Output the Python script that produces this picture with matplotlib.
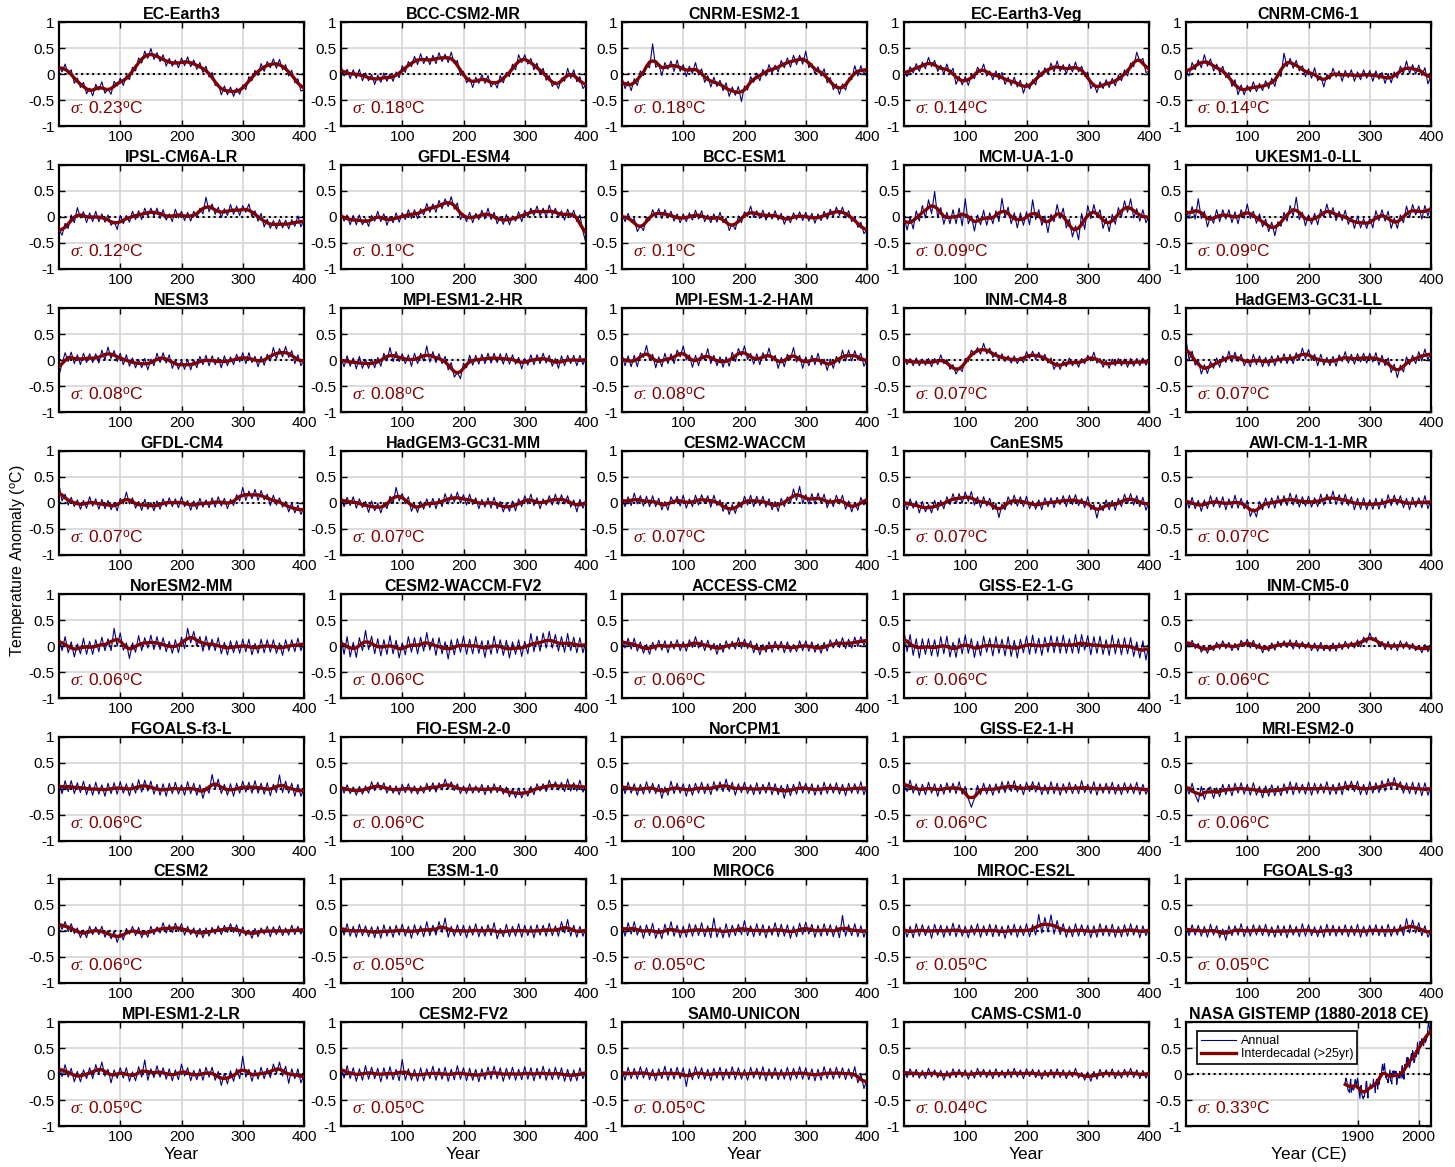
import numpy as np
import matplotlib
matplotlib.use('Agg')
import matplotlib.pyplot as plt
from matplotlib.ticker import FuncFormatter

plt.rcParams['font.family'] = ['Liberation Sans', 'DejaVu Sans']
plt.rcParams['mathtext.fontset'] = 'custom'
plt.rcParams['mathtext.rm'] = 'Liberation Sans'
plt.rcParams['mathtext.it'] = 'Liberation Serif:italic'
plt.rcParams['axes.unicode_minus'] = False

# annual global-mean anomaly, hundredths of a degree C, one value every 5 model years (0..400)
ec_earth3 = [16,4,19,0,8,-18,-8,-26,-16,-38,-27,-42,-20,-31,-15,-37,-29,-39,-14,-23,-8,-22,-3,-11,13,6,31,21,44,30,49,28,41,24,37,15,30,15,27,12,31,16,33,14,27,9,22,3,15,-6,3,-22,-19,-40,-23,-40,-25,-43,-27,-39,-21,-30,-5,-13,7,-3,20,5,24,12,29,11,28,8,18,-4,7,-17,-9,-33,-30]
bcc_csm2_mr = [15,-4,9,-9,8,-8,9,-13,2,-13,-1,-20,-2,-16,2,-14,0,-14,4,-7,16,3,24,14,34,18,39,20,34,18,36,20,41,24,38,22,42,20,26,-3,5,-17,-7,-26,-6,-18,-1,-18,-3,-25,-14,-27,-3,-17,3,-5,19,8,37,22,37,19,30,8,21,-1,11,-12,-3,-24,-15,-28,-8,-14,11,-8,8,-15,-5,-28,-20]
cnrm_esm2_1 = [-7,-28,-14,-32,-9,-22,6,-3,17,12,58,13,19,-3,22,9,25,5,27,5,18,-5,15,1,22,-2,10,-16,-3,-25,-6,-24,-12,-32,-17,-43,-25,-41,-24,-53,-23,-31,-5,-16,2,-13,9,-4,18,1,17,4,26,12,31,13,36,18,36,19,44,12,20,0,14,-4,10,-17,-7,-30,-19,-39,-19,-31,-8,-11,16,-4,16,-1,14]
ec_earth3_veg = [5,-5,14,2,20,5,23,10,32,14,26,5,17,0,19,1,11,-20,-4,-21,-5,-22,-1,-9,13,3,19,-4,6,-11,6,-11,3,-20,-6,-22,-6,-25,-12,-37,-17,-29,-11,-21,7,-5,12,0,21,4,25,5,18,0,19,4,23,4,15,-4,4,-28,-18,-36,-15,-28,-11,-26,-8,-23,-2,-13,8,-4,21,14,42,24,30,3,5]
cnrm_cm6_1 = [7,-4,22,8,27,12,37,15,29,6,19,2,15,-7,3,-24,-11,-40,-21,-40,-22,-34,-15,-34,-18,-32,-13,-28,-8,-24,2,-5,40,14,30,11,26,6,16,-5,10,-8,12,-13,-4,-25,-1,-10,11,-6,6,-14,7,-7,8,-14,4,-11,8,-8,7,-14,6,-10,3,-18,1,-17,4,-8,15,1,25,1,18,0,17,-3,12,-19,-4]
ipsl_cm6a_lr = [-24,-35,-12,-22,4,-11,18,-2,10,-11,8,-9,11,-9,6,-10,4,-16,-8,-24,3,-13,3,-10,11,-5,12,-5,17,1,17,2,17,-3,14,-6,6,-9,15,-2,11,-7,9,-8,11,-1,17,6,38,10,25,5,19,-1,16,3,24,5,21,3,22,9,25,1,12,-8,7,-19,-4,-22,-7,-23,-5,-21,-6,-23,-5,-18,2,-19,-4]
gfdl_esm4 = [9,-8,4,-15,3,-15,4,-15,-3,-18,3,-8,11,-9,6,-16,1,-11,8,-10,8,-5,14,-3,14,-3,16,4,26,9,25,9,32,16,35,20,39,15,27,-5,6,-9,9,-11,7,-5,13,-4,17,-5,9,-13,1,-14,5,-15,2,-8,10,-9,13,0,17,3,21,2,17,0,23,3,17,-1,12,-6,15,-1,13,-9,4,-28,-50]
bcc_esm1 = [6,-9,7,-10,-3,-28,-17,-26,0,-7,14,0,16,-3,14,-2,11,-8,6,-11,6,-9,8,-6,13,-4,12,-9,4,-11,6,-10,9,-11,-2,-26,-13,-24,2,-11,10,1,21,-1,12,-3,13,-6,9,-4,12,-6,7,-14,2,-11,8,-5,10,-7,9,-8,7,-12,6,-7,11,-4,15,1,19,3,19,-2,12,-9,1,-20,-10,-32,-25]
mcm_ua_1_0 = [2,-25,0,-23,12,-8,22,-2,33,6,49,-1,18,-14,9,-13,14,-13,17,-17,35,-13,2,-27,4,-15,13,-16,8,-13,12,-9,36,-1,19,-13,8,-21,8,-16,10,-15,33,-5,14,-16,2,-30,5,-9,24,-3,17,-21,-4,-38,-17,-44,7,-24,22,-3,24,-1,14,-22,-2,-28,5,-14,18,0,31,9,35,-2,16,-8,14,-11,2]
ukesm1_0_ll = [15,-3,20,-4,35,-3,11,-19,3,-12,14,-9,14,-4,14,-11,10,-13,14,-3,25,-3,11,-12,6,-19,-4,-28,-10,-36,-9,-18,9,-8,22,2,38,-5,9,-17,4,-14,7,-15,15,0,25,1,18,-7,11,-7,13,-14,1,-22,2,-21,-3,-22,-2,-21,12,-7,14,-8,11,-22,-2,-22,4,-11,21,-1,24,4,21,-4,22,2,24]
nesm3 = [-30,-7,14,-3,15,-7,10,-9,13,-5,12,-5,12,-6,19,0,25,3,18,-3,13,-9,10,-12,4,-15,1,-15,3,-19,2,-11,13,-5,14,-6,10,-16,0,-18,-1,-18,1,-19,0,-15,7,-9,9,-11,8,-9,5,-15,8,-11,6,-9,11,-4,14,-7,14,-5,7,-13,7,-10,11,-2,24,2,22,6,26,5,18,-7,10,-11,1]
mpi_esm1_2_hr = [6,-13,8,-12,4,-17,7,-16,1,-16,2,-15,5,-12,13,-2,24,-3,16,-3,12,-7,10,-12,13,-7,13,-2,27,-4,16,-5,12,-7,7,-19,-5,-33,-24,-36,-6,-15,9,-10,9,-8,11,-7,13,-6,13,-5,12,-8,13,-8,10,-8,5,-17,3,-10,10,-9,10,-7,13,-6,9,-12,3,-16,8,-11,9,-7,9,-11,9,-9,6]
mpi_esm_1_2_ham = [10,-11,8,-13,9,-13,14,5,28,0,11,-15,6,-13,13,-7,12,-7,19,6,27,0,10,-14,9,-11,13,0,22,-7,9,-11,6,-14,6,-12,15,-3,22,8,27,1,13,-8,12,-9,14,0,23,-2,9,-16,5,-13,11,1,24,-4,9,-16,6,-11,9,-9,13,-10,2,-20,2,-16,7,-6,19,-2,19,-2,18,0,13,-12,1]
inm_cm4_8 = [6,-9,3,-11,4,-11,2,-10,3,-13,3,-9,10,-7,1,-18,-9,-27,-15,-22,3,-3,19,10,24,11,32,12,23,5,15,-1,12,-3,8,-6,8,-7,6,-5,16,3,17,1,15,0,11,-6,4,-18,-4,-18,-2,-13,4,-11,1,-14,3,-7,9,-2,15,-6,3,-14,-1,-16,2,-11,3,-11,2,-14,3,-12,3,-11,4,-10,1]
hadgem3_gc31_ll = [40,0,17,-10,1,-27,-9,-26,-3,-16,4,-14,8,-5,17,-4,15,-3,11,-11,2,-13,11,-9,8,-13,5,-12,8,-11,9,-6,12,-7,11,-7,14,0,23,2,20,-1,11,-11,11,-10,5,-11,7,-12,10,-3,16,-6,11,-8,12,-4,13,-6,13,-4,14,-10,9,-11,4,-24,-8,-34,-10,-23,6,-9,9,-7,16,-2,21,0,17]
gfdl_cm4 = [35,4,17,-4,11,-7,6,-12,5,-10,12,-6,8,-12,7,-11,5,-13,1,-15,9,-2,21,-2,10,-10,3,-14,7,-12,1,-15,4,-12,8,-7,10,-7,8,-9,12,-7,5,-14,4,-12,9,-8,6,-9,10,-8,12,-6,9,-11,7,-5,16,4,30,5,23,8,26,5,24,6,17,-5,15,-4,10,-8,3,-17,0,-19,-4,-22,-9]
hadgem3_gc31_mm = [14,-7,11,-5,12,-10,8,-9,3,-18,4,-15,-1,-19,1,-11,13,-1,30,4,18,-2,12,-16,-2,-18,3,-12,8,-9,9,-11,9,-7,18,-2,17,2,21,0,16,-4,17,-3,10,-11,7,-8,10,-10,11,-11,3,-17,0,-16,4,-15,8,-7,14,-2,17,-5,10,-11,8,-4,14,-4,17,-3,16,-2,14,-8,6,-17,7,-10,7]
cesm2_waccm = [12,-7,12,-5,19,-2,14,-6,13,-7,14,-7,9,-13,3,-14,12,-2,13,-6,15,-10,8,-7,15,-4,16,-1,14,-8,15,-5,6,-16,-1,-22,-3,-20,2,-9,13,-4,15,-7,13,-5,13,-8,8,-13,3,-16,9,-7,12,0,27,5,32,-1,16,-2,18,-2,19,0,17,-9,8,-7,15,-2,15,-12,4,-17,1,-14,11,-4,13]
canesm5 = [8,-13,8,-10,4,-19,3,-17,-3,-19,5,-14,5,-11,12,-3,18,-1,18,0,21,3,22,-4,12,-9,12,-6,9,-13,-1,-28,-2,-13,12,-4,15,-6,12,-7,13,-11,4,-12,6,-13,10,-7,10,-9,11,-3,14,-7,15,-3,16,-5,9,-9,12,-13,-3,-29,-2,-15,6,-13,5,-14,9,-7,17,-1,18,-4,14,-7,11,-14,2]
awi_cm_1_1_mr = [11,-10,11,-11,5,-16,6,-11,14,-7,11,-9,12,-13,8,-10,15,-10,9,-11,5,-26,-11,-27,3,-13,10,-10,10,-10,14,-5,14,-5,19,-4,16,-8,12,-6,13,-8,10,-7,17,-4,17,1,23,-3,16,-4,17,-5,12,-13,9,-12,10,-13,6,-12,9,-12,8,-10,16,-5,15,-4,14,-9,9,-13,11,-8,10,-9,14,-11,8]
noresm2_mm = [19,-9,18,-13,8,-21,4,-15,15,-16,9,-16,12,-11,17,-9,14,-9,34,0,25,-8,6,-24,6,-12,20,-9,16,-4,21,-7,18,-7,16,-11,9,-14,12,-13,17,-5,34,6,28,0,18,-10,19,-8,13,-9,16,-15,7,-17,10,-13,10,-14,13,-11,13,-17,5,-14,13,-13,12,-12,12,-14,6,-18,12,-10,12,-11,15,-9,10]
cesm2_waccm_fv2 = [18,-16,18,-21,7,-22,16,-9,30,-7,19,-15,14,-19,12,-16,20,-15,11,-23,6,-17,18,-12,16,-15,17,-10,26,-8,15,-18,16,-15,8,-25,12,-17,14,-12,19,-16,13,-15,18,-14,10,-22,11,-16,19,-14,12,-18,11,-23,8,-16,12,-20,9,-15,24,-11,19,-10,25,-4,28,-4,22,-10,18,-12,24,-9,17,-13,16,-13,10]
access_cm2 = [15,-4,15,-6,15,-10,8,-14,3,-16,7,-8,11,-8,10,-13,9,-6,12,-9,8,-10,12,-3,18,-4,11,-9,11,-8,5,-16,5,-12,10,-6,9,-6,16,-5,13,-5,10,-13,5,-17,3,-12,8,-12,9,-8,9,-13,8,-12,3,-11,10,-9,10,-10,8,-12,4,-14,7,-10,12,-4,13,-3,16,-5,13,-4,17,-1,18,1,16]
giss_e2_1_g = [30,-11,22,-18,14,-23,14,-16,14,-19,12,-20,18,-15,19,-21,7,-22,15,-15,21,-14,14,-22,9,-19,19,-12,15,-19,18,-14,13,-19,18,-20,11,-23,13,-13,19,-16,21,-14,15,-18,17,-12,20,-13,18,-14,21,-14,14,-14,22,-14,22,-8,20,-17,18,-14,19,-16,12,-18,21,-15,14,-17,16,-15,16,-20,8,-23,10,-27,7]
inm_cm5_0 = [12,-2,11,-5,5,-12,0,-14,2,-9,7,-6,10,-5,7,-9,5,-8,11,-1,13,-4,11,-6,5,-13,0,-10,6,-8,9,-3,10,-3,12,-6,11,-5,8,-5,7,-9,6,-10,7,-9,2,-10,6,-10,6,-7,9,-5,8,-4,12,-2,17,6,25,10,17,-1,9,-7,9,-7,6,-9,10,-5,8,-7,5,-9,1,-13,3,-11,0]
fgoals_f3_l = [12,-9,16,-5,16,-9,12,-7,15,-11,9,-12,13,-10,8,-14,11,-9,12,-10,14,-8,10,-13,11,-8,18,-6,17,-4,15,-10,9,-12,10,-14,11,-9,13,-10,8,-12,14,-9,11,-12,8,-18,4,-8,28,0,19,-9,9,-12,10,-14,11,-8,15,-6,13,-8,16,-8,11,-10,12,-13,9,-7,27,-7,15,-8,11,-14,9,-14,1]
fio_esm_2_0 = [8,-8,8,-9,4,-12,5,-10,6,-8,14,-3,13,-2,12,-8,7,-8,6,-11,9,-7,10,-8,6,-10,6,-8,11,-5,12,-6,12,-2,19,0,14,-3,10,-9,6,-9,10,-8,6,-7,9,-11,7,-8,10,-7,7,-10,4,-15,0,-17,2,-17,-2,-14,5,-11,10,-4,10,-5,17,-1,14,-2,13,-5,19,-4,12,-4,17,-6,6]
norcpm1 = [11,-9,13,-8,10,-12,9,-10,14,-8,11,-9,9,-18,4,-12,15,-9,11,-8,10,-14,9,-12,11,-8,13,-9,10,-11,14,-4,14,-5,19,-5,13,-12,10,-7,13,-9,8,-11,12,-10,9,-8,13,-11,10,-11,7,-18,9,-13,9,-10,14,-8,11,-9,10,-12,8,-11,13,-9,10,-8,12,-10,9,-13,11,-8,10,-9,14,-11,8]
giss_e2_1_h = [17,-5,17,-8,10,-12,9,-11,13,-8,10,-14,9,-10,12,-7,11,-9,14,-10,5,-19,-35,-18,7,-11,11,-10,9,-12,10,-8,14,-7,15,-5,16,-6,9,-11,13,-5,14,-6,13,-11,8,-10,14,-9,11,-12,10,-8,13,-9,9,-9,16,-7,9,-9,14,-12,10,-8,11,-9,13,-10,9,-11,12,-8,10,-9,13,-11,9,-10,3]
mri_esm2_0 = [10,-10,11,-11,-25,5,-20,0,4,-18,2,-15,9,-11,9,-13,11,-8,12,-10,9,-12,12,-12,5,-17,6,-14,8,-13,6,-13,10,-9,14,-11,12,-8,9,-10,13,-12,11,-9,10,-8,14,-11,9,-10,12,-11,15,-3,15,-5,15,-11,9,-11,14,-8,12,-7,16,-4,20,-1,22,0,14,-8,12,-9,13,-10,12,-13,12,-12,7]
cesm2 = [18,3,18,-1,14,-5,6,-13,2,-13,9,-7,8,-7,9,-12,1,-15,0,-22,-3,-17,5,-6,9,-9,7,-13,1,-12,9,-7,8,-4,16,-4,12,-3,15,-1,14,-8,9,-7,6,-12,5,-13,6,-10,7,-6,10,-7,11,-3,14,-3,12,-10,8,-9,2,-14,5,-11,6,-6,9,-11,8,-7,10,-9,6,-8,11,-7,9,-6,8]
e3sm_1_0 = [11,-8,14,-10,9,-12,13,-9,10,-11,8,-13,9,-14,12,-10,9,-12,11,-8,13,-10,9,-14,12,-8,10,-11,18,-9,11,-8,18,-3,25,-12,9,-10,12,-9,11,-13,10,-8,14,-11,9,-10,12,-9,16,-15,5,-11,13,-11,9,-10,14,-12,11,-9,10,-13,12,-8,11,-10,15,-9,10,-10,18,-4,22,-10,11,-12,9,-10,8]
miroc6 = [12,-10,16,-6,18,-8,10,-14,12,-9,15,-14,5,-15,13,-8,18,-10,11,-13,9,-12,14,-10,12,-9,16,-11,10,-13,25,-12,7,-13,14,-12,11,-9,13,-7,20,-9,10,-11,14,-9,12,-13,10,-8,16,-11,13,-10,12,-14,9,-11,15,-7,17,-6,13,-12,11,-10,14,-9,12,-11,10,-13,30,-10,12,-9,14,-11,10,-12,8]
miroc_es2l = [11,-12,9,-13,14,-10,12,-9,10,-14,13,-8,11,-12,10,-9,15,-11,12,-10,9,-13,11,-8,14,-12,10,-9,13,-11,12,-10,9,-14,11,-8,13,-12,10,-9,14,-11,12,-8,32,-4,26,-2,31,-6,20,-7,14,-12,9,-11,14,-10,12,-9,11,-13,10,-12,14,-9,11,-10,13,-12,9,-11,12,-10,14,-8,11,-13,10,-9,7]
fgoals_g3 = [10,-9,12,-8,11,-10,9,-12,13,-8,10,-13,4,-18,10,-9,10,-8,14,-11,9,-10,12,-8,11,-9,13,-10,8,-12,11,-9,10,-13,12,-8,9,-11,14,-10,12,-9,8,-11,10,-12,13,-9,11,-10,9,-8,12,-11,10,-9,13,-12,9,-10,11,-8,12,-9,10,-11,13,-10,9,-8,12,-9,24,-4,21,-4,16,-9,10,-12,1]
mpi_esm1_2_lr = [17,-5,18,-6,11,-15,5,-15,8,-9,12,-9,18,0,23,-4,9,-17,8,-8,12,-8,12,-14,4,-13,14,-6,27,-12,10,-7,16,-6,12,-10,10,-13,8,-11,19,-4,12,-13,7,-11,10,-12,13,-6,13,-12,5,-22,1,-19,6,-14,10,-9,34,-6,9,-14,8,-10,13,-9,11,-7,19,1,23,-4,15,-18,10,-9,10,-17,-2]
cesm2_fv2 = [18,-8,16,-9,12,-14,10,-12,16,-10,13,-9,11,-15,12,-10,14,-11,9,-13,28,-12,10,-12,9,-14,12,-13,10,-9,15,-12,11,-10,13,-14,9,-11,16,-10,12,-13,11,-12,9,-15,10,-11,13,-10,15,-9,12,-14,11,-10,13,-12,9,-11,14,-10,12,-13,11,-9,15,-12,10,-11,13,-10,12,-14,9,-14,8,-13,12,-9,8]
sam0_unicon = [10,-12,13,-9,11,-10,14,-8,12,-11,9,-13,10,-9,15,-12,11,-10,13,-9,12,-24,10,-11,14,-9,12,-10,9,-13,11,-8,13,-12,10,-9,14,-11,12,-10,9,-12,13,-8,11,-10,14,-13,10,-9,12,-11,9,-10,13,-12,11,-9,14,-10,12,-11,10,-13,9,-12,14,-9,11,-10,13,-8,12,-11,10,-9,14,-17,0,-28,-10]
cams_csm1_0 = [8,-7,10,-6,9,-8,7,-9,11,-6,8,-7,7,-12,6,-8,10,-7,9,-6,8,-10,7,-8,11,-6,9,-7,8,-9,10,-6,7,-8,9,-7,11,-6,8,-9,10,-5,9,-7,8,-10,7,-6,9,-8,10,-7,8,-9,7,-6,11,-8,3,-12,4,-14,5,-10,9,-7,8,-6,10,-9,7,-8,9,-6,11,-7,8,-9,7,-8,6]

models = ['EC-Earth3', 'BCC-CSM2-MR', 'CNRM-ESM2-1', 'EC-Earth3-Veg', 'CNRM-CM6-1',
          'IPSL-CM6A-LR', 'GFDL-ESM4', 'BCC-ESM1', 'MCM-UA-1-0', 'UKESM1-0-LL',
          'NESM3', 'MPI-ESM1-2-HR', 'MPI-ESM-1-2-HAM', 'INM-CM4-8', 'HadGEM3-GC31-LL',
          'GFDL-CM4', 'HadGEM3-GC31-MM', 'CESM2-WACCM', 'CanESM5', 'AWI-CM-1-1-MR',
          'NorESM2-MM', 'CESM2-WACCM-FV2', 'ACCESS-CM2', 'GISS-E2-1-G', 'INM-CM5-0',
          'FGOALS-f3-L', 'FIO-ESM-2-0', 'NorCPM1', 'GISS-E2-1-H', 'MRI-ESM2-0',
          'CESM2', 'E3SM-1-0', 'MIROC6', 'MIROC-ES2L', 'FGOALS-g3',
          'MPI-ESM1-2-LR', 'CESM2-FV2', 'SAM0-UNICON', 'CAMS-CSM1-0']
sigmas = ['0.23', '0.18', '0.18', '0.14', '0.14',
          '0.12', '0.1', '0.1', '0.09', '0.09',
          '0.08', '0.08', '0.08', '0.07', '0.07',
          '0.07', '0.07', '0.07', '0.07', '0.07',
          '0.06', '0.06', '0.06', '0.06', '0.06',
          '0.06', '0.06', '0.06', '0.06', '0.06',
          '0.06', '0.05', '0.05', '0.05', '0.05',
          '0.05', '0.05', '0.05', '0.04']
annual = [ec_earth3, bcc_csm2_mr, cnrm_esm2_1, ec_earth3_veg, cnrm_cm6_1,
          ipsl_cm6a_lr, gfdl_esm4, bcc_esm1, mcm_ua_1_0, ukesm1_0_ll,
          nesm3, mpi_esm1_2_hr, mpi_esm_1_2_ham, inm_cm4_8, hadgem3_gc31_ll,
          gfdl_cm4, hadgem3_gc31_mm, cesm2_waccm, canesm5, awi_cm_1_1_mr,
          noresm2_mm, cesm2_waccm_fv2, access_cm2, giss_e2_1_g, inm_cm5_0,
          fgoals_f3_l, fio_esm_2_0, norcpm1, giss_e2_1_h, mri_esm2_0,
          cesm2, e3sm_1_0, miroc6, miroc_es2l, fgoals_g3,
          mpi_esm1_2_lr, cesm2_fv2, sam0_unicon, cams_csm1_0]

# NASA GISTEMP annual means 1880-2018 (hundredths of a degree C)
gistemp_start = 1880
gistemp = [-16,-8,-11,-17,-28,-33,-31,-36,-17,-10,
           -35,-22,-27,-31,-30,-22,-11,-11,-27,-17,
           -8,-15,-28,-37,-47,-26,-22,-39,-43,-48,
           -43,-44,-36,-34,-15,-14,-36,-46,-29,-27,
           -27,-19,-28,-26,-27,-22,-10,-22,-20,-36,
           -16,-10,-16,-29,-13,-20,-15,-3,0,-2,
           13,19,7,9,20,9,-7,-3,-11,-11,
           -17,-7,1,8,-13,-14,-19,5,6,3,
           -3,6,3,5,-20,-11,-6,-2,-8,5,
           3,-8,1,16,-7,-1,-10,18,7,16,
           26,32,14,31,16,12,18,32,39,27,
           45,40,22,23,32,45,33,46,61,38,
           39,54,63,62,53,68,64,66,54,65,
           72,61,64,68,75,90,101,92,85]
gistemp_sigma = '0.33'

BLUE = '#000080'
RED = '#800000'


def lowpass(v, w):
    ones = np.ones(len(v))
    return np.convolve(v, w, 'same') / np.convolve(ones, w, 'same')


def style(ax):
    ax.set_ylim(-1, 1)
    ax.set_yticks([-1, -0.5, 0, 0.5, 1])
    ax.yaxis.set_major_formatter(FuncFormatter(lambda v, p: '%g' % v))
    ax.set_axisbelow(True)
    ax.grid(True, color='#d5d5d5', lw=1.2)
    ax.axhline(0, color='k', ls=':', lw=1.5, zorder=1.5)
    ax.tick_params(direction='in', top=True, right=True, length=4, width=1,
                   labelsize=11, pad=3)
    for s in ax.spines.values():
        s.set_linewidth(1.6)


fig = plt.figure(figsize=(14.55, 11.67), dpi=100)
lefts = [59, 341, 622, 904, 1186]
tops = [22, 165, 308, 451, 594, 737, 879, 1022]
W, H = 245, 104

for k in range(40):
    r, c = divmod(k, 5)
    ax = fig.add_axes([lefts[c] / 1455, 1 - (tops[r] + H) / 1167, W / 1455, H / 1167])
    style(ax)
    if k < 39:
        v = np.array(annual[k]) / 100.0
        yrs = np.arange(len(v)) * 5
        ax.plot(yrs, v, color=BLUE, lw=0.8, zorder=2)
        ax.plot(yrs, lowpass(v, np.array([1, 2, 2, 2, 1])), color=RED, lw=2.4, zorder=3)
        ax.set_xlim(0, 400)
        ax.set_xticks([100, 200, 300, 400])
        title, sig = models[k], sigmas[k]
        if r == 7:
            ax.set_xlabel('Year', fontsize=12.5, labelpad=2)
    else:
        v = np.array(gistemp) / 100.0
        yrs = np.arange(len(v)) + gistemp_start
        l1, = ax.plot(yrs, v, color=BLUE, lw=0.8, zorder=2)
        l2, = ax.plot(yrs, lowpass(v, np.hanning(27)[1:-1]), color=RED, lw=2.4, zorder=3)
        ax.set_xlim(1620, 2020)
        ax.set_xticks([1900, 2000])
        title, sig = 'NASA GISTEMP (1880-2018 CE)', gistemp_sigma
        ax.set_xlabel('Year (CE)', fontsize=12.5, labelpad=2)
        leg = ax.legend([l1, l2], ['Annual', 'Interdecadal (>25yr)'], loc='upper left',
                        bbox_to_anchor=(0.02, 0.97), fontsize=9, fancybox=False,
                        framealpha=1, edgecolor='k', borderpad=0.3, labelspacing=0.1,
                        handlelength=2.8, handletextpad=0.4)
        leg.get_frame().set_linewidth(1.2)
    ax.set_title(title, fontsize=11.5, fontweight='bold', pad=2)
    ax.text(0.045, 0.17, r'$\sigma$: ' + sig + r'$^{\rm o}$C', transform=ax.transAxes,
            color=RED, fontsize=12.5, ha='left', va='center', zorder=4)

fig.text(0.012, 0.52, 'Temperature Anomaly ($^{\\rm o}$C)', rotation=90,
         ha='center', va='center', fontsize=11.5)

fig.savefig('out.png', dpi=100)
